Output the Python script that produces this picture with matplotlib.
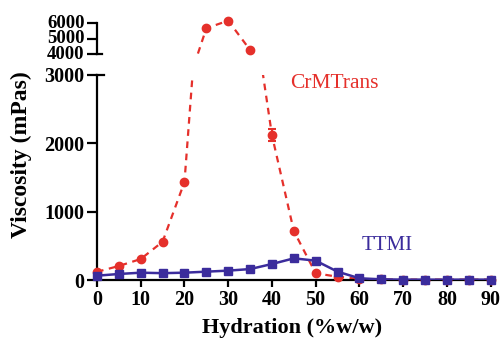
import numpy as np
import matplotlib
matplotlib.use('Agg')
import matplotlib.pyplot as plt
import matplotlib.transforms as mtransforms

plt.rcParams['font.family'] = ['Liberation Serif', 'DejaVu Serif']

# hydration (%w/w)
hydration = [0, 5, 10, 15, 20, 25, 30, 35, 40, 45, 50, 55, 60, 65, 70, 75, 80, 85, 90]
# viscosity (mPas)
crmtrans = [120, 205, 307, 560, 1435, 5680, 6170, 4280, 2120, 717, 98, 48, 15, 8, 5, 5, 5, 5, 5]
crmtrans_err = [0, 0, 0, 0, 0, 0, 0, 0, 90, 0, 0, 0, 0, 0, 0, 0, 0, 0, 0]
ttmi = [63, 88, 107, 100, 107, 122, 137, 160, 234, 317, 283, 122, 25, 10, 5, 5, 5, 5, 5]

red = '#e5302b'
blue = '#3b2c9c'

W, H = 501, 340
fig = plt.figure(figsize=(W / 100, H / 100), dpi=100)

left = 97 / W
width = (495 - 97) / W
ax = fig.add_axes([left, (H - 280) / H, width, (280 - 75) / H])
ax2 = fig.add_axes([left, (H - 54.3) / H, width, (54.3 - 18.65) / H])

x = np.array(hydration)
yr = np.array(crmtrans)
ye = np.array(crmtrans_err)
yb = np.array(ttmi)

# lower panel
ax.plot(x, yr, color=red, lw=1.6, ls=(0, (3, 2.5)))
has_err = ye > 0
ax.errorbar(x[has_err], yr[has_err], yerr=ye[has_err], fmt='none', ecolor=red,
            elinewidth=1.5, capsize=3, capthick=1.5, clip_on=False)
low = yr <= 3000
ax.plot(x[low], yr[low], 'o', color=red, ms=6, clip_on=False, zorder=3)
ax.plot(x, yb, color=blue, lw=1.8, zorder=4)
ax.plot(x, yb, 's', color=blue, ms=5.5, clip_on=False, zorder=5)

ax.set_xlim(0, 91)
ax.set_ylim(0, 3000)
ax.set_xticks(range(0, 91, 10))
ax.set_yticks([0, 1000, 2000, 3000])
ax.spines['top'].set_visible(False)
ax.spines['right'].set_visible(False)
ax.spines['bottom'].set_bounds(0, 91)
for s in ['left', 'bottom']:
    ax.spines[s].set_linewidth(1.6)
ax.tick_params(width=1.6, length=5, labelsize=14.5, pad=2)
ax.tick_params(axis='y', length=7)
for lab in ax.get_xticklabels() + ax.get_yticklabels():
    lab.set_fontweight('bold')

ax.set_xlabel('Hydration (%w/w)', fontsize=16, fontweight='bold')
ax.set_ylabel('Viscosity (mPas)', fontsize=17, fontweight='bold')
ax.xaxis.set_label_coords(0.49, -0.185)
ax.yaxis.set_label_coords(-0.163, 0.61)

# upper panel
ax2.plot(x, yr, color=red, lw=1.6, ls=(0, (3, 2.5)))
high = yr >= 4000
ax2.plot(x[high], yr[high], 'o', color=red, ms=6, clip_on=False, zorder=3)
ax2.set_xlim(0, 91)
ax2.set_ylim(4000, 6300)
ax2.set_yticks([4000, 5000, 6000])
ax2.set_xticks([])
for s in ['top', 'right', 'bottom']:
    ax2.spines[s].set_visible(False)
ax2.spines['left'].set_bounds(4000, 6000)
ax2.spines['left'].set_linewidth(1.6)
ax2.tick_params(axis='y', width=1.6, length=7, labelsize=13.5, pad=2)
for lab in ax2.get_yticklabels():
    lab.set_fontweight('bold')
    lab.set_va('center')

# break marks
tr2 = mtransforms.blended_transform_factory(ax2.transAxes, ax2.transData)
ax2.plot([0, 0.012], [4000, 4000], transform=tr2, color='black', lw=1.6, clip_on=False)
tr1 = mtransforms.blended_transform_factory(ax.transAxes, ax.transData)
ax.plot([0, 0.017], [3000, 3000], transform=tr1, color='black', lw=1.6, clip_on=False)

ax.text(54.2, 2880, 'CrMTrans', color=red, fontsize=15.5, ha='center', va='center')
ax.text(66.4, 500, 'TTMI', color=blue, fontsize=15, ha='center', va='center')

fig.savefig('out.png', dpi=100)
